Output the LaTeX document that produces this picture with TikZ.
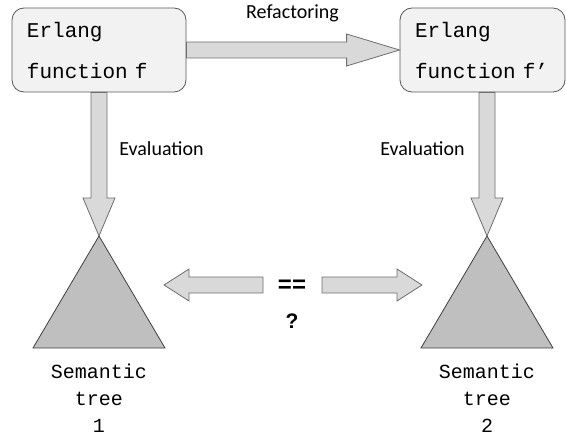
\documentclass[tikz,border=0pt]{standalone}
\usepackage{fontspec}
\setmainfont{Carlito}
\newfontfamily\codefont{Liberation Mono}[WordSpace={1,0,0}]
\newfontfamily\symfont{Liberation Sans}
\usetikzlibrary{calc,positioning}

\definecolor{boxfill}{HTML}{F2F2F2}
\definecolor{boxline}{HTML}{595959}
\definecolor{arrfill}{HTML}{D9D9D9}
\definecolor{arrline}{HTML}{6E6E6E}
\definecolor{treefill}{HTML}{BFBFBF}
\definecolor{treeline}{HTML}{3F3F3F}

\tikzset{
  ebox/.style={draw=boxline, fill=boxfill, line width=0.8pt, rounded corners=12pt,
    minimum height=84pt, inner xsep=15pt, inner ysep=0pt, align=left,
    font=\codefont\fontsize{21}{41}\selectfont},
  bigarrow/.style={draw=arrline, fill=arrfill, line width=0.8pt},
  tree/.style={draw=treeline, fill=treefill, line width=0.8pt},
  treelabel/.style={align=center, inner sep=0pt, font=\codefont\fontsize{20}{27}\selectfont},
  steplabel/.style={font=\fontsize{20}{24}\selectfont}
}

% block arrow from #1 to tip #2, head length #3
\newcommand{\blockarr}[3]{%
  \coordinate (hb) at ($(#2)!#3!(#1)$);
  \draw[bigarrow] ($(#1)!8pt!90:(#2)$) -- ($(hb)!8pt!90:(#2)$) -- ($(hb)!16pt!90:(#2)$)
    -- (#2) -- ($(hb)!16pt!-90:(#2)$) -- ($(hb)!8pt!-90:(#2)$) -- ($(#1)!8pt!-90:(#2)$) -- cycle;}

\begin{document}
\begin{tikzpicture}[x=1pt, y=-1pt]
  \useasboundingbox (0,0) rectangle (566,436);

  % Erlang functions
  \node[ebox, text width=144pt] (f1) at (99,50) {Erlang\\function f};
  \node[ebox, text width=135pt] (f2) at (482.5,50) {Erlang\\function f’};

  % Semantic trees
  \coordinate (t1) at (99,236);
  \coordinate (t2) at (487,236);
  \draw[tree] (t1) -- ++(66,112) -- ++(-132,0) -- cycle;
  \draw[tree] (t2) -- ++(66,112) -- ++(-132,0) -- cycle;
  \node[treelabel, anchor=north] (s1) at (99,364) {Semantic\\tree\\1};
  \node[treelabel, anchor=north] (s2) at (487,364) {Semantic\\tree\\2};

  % Refactoring
  \blockarr{f1.east}{f2.west}{53pt}
  \node[steplabel] (refac) at (292.5,13) {Refactoring};

  % Evaluation
  \blockarr{f1.south}{t1}{38pt}
  \blockarr{f2.south -| t2}{t2}{38pt}
  \node[steplabel] (evl) at (161.5,149) {Evaluation};
  \node[steplabel] (evr) at (422.5,149) {Evaluation};

  % Comparison
  \node[font=\symfont\bfseries\fontsize{24}{24}\selectfont] (eq) at (292,286) {==};
  \node[font=\symfont\bfseries\fontsize{21}{21}\selectfont] (qm) at (292,321.5) {?};
  \coordinate (l1) at (263,285);
  \coordinate (l2) at (164,285);
  \coordinate (r1) at (322,285);
  \coordinate (r2) at (422,285);
  \blockarr{l1}{l2}{25pt}
  \blockarr{r1}{r2}{25pt}
\end{tikzpicture}
\end{document}
